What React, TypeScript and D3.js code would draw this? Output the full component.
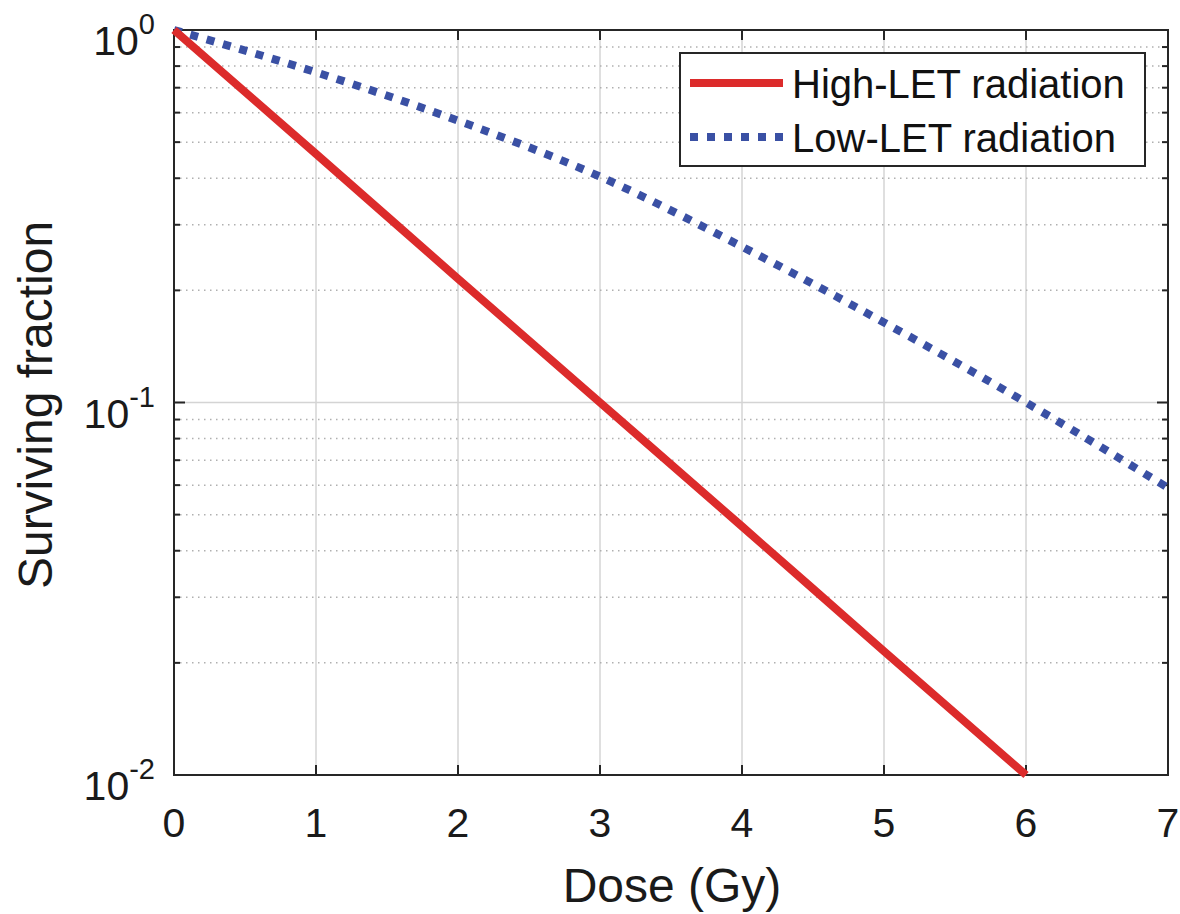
import * as d3 from "d3";
import { useEffect, useRef } from "react";

// dose (Gy)
const doses = [0, 1, 2, 3, 4, 5, 6, 7];
// surviving fraction, high-LET (ends at 6 Gy)
const highLET = [1, 0.465, 0.215, 0.1, 0.0465, 0.0215, 0.01];
// surviving fraction, low-LET
const lowLET = [1, 0.77, 0.571, 0.404, 0.262, 0.164, 0.1, 0.059];
const xTicks = [0, 1, 2, 3, 4, 5, 6, 7];
const yMajor = [0.01, 0.1, 1];
const yExp = ["-2", "-1", "0"];
const yMinor = [0.02, 0.03, 0.04, 0.05, 0.06, 0.07, 0.08, 0.09, 0.2, 0.3, 0.4, 0.5, 0.6, 0.7, 0.8, 0.9];
const seriesNames = ["High-LET radiation", "Low-LET radiation"];

const App = () => {
  const ref = useRef<SVGSVGElement>(null);

  useEffect(() => {
    const svg = d3.select(ref.current);
    svg.selectAll("*").remove();
    const font = "'Liberation Sans', Arial, sans-serif";
    const left = 174, right = 1168, top = 30, bottom = 775;
    const axisColor = "#262626";

    const x = d3.scaleLinear().domain([0, 7]).range([left, right]);
    const y = d3.scaleLog().domain([0.01, 1]).range([bottom, top]);

    // grid
    svg.append("g").selectAll("line").data(xTicks.slice(1, -1)).enter().append("line")
      .attr("x1", (d) => x(d)).attr("x2", (d) => x(d))
      .attr("y1", top).attr("y2", bottom)
      .attr("stroke", "#d4d4d4").attr("stroke-width", 1.5);
    svg.append("g").selectAll("line").data(yMinor).enter().append("line")
      .attr("x1", left).attr("x2", right)
      .attr("y1", (d) => y(d)).attr("y2", (d) => y(d))
      .attr("stroke", "#b0b0b0").attr("stroke-width", 1.5)
      .attr("stroke-dasharray", "1.5,4.5");
    svg.append("line")
      .attr("x1", left).attr("x2", right)
      .attr("y1", y(0.1)).attr("y2", y(0.1))
      .attr("stroke", "#d4d4d4").attr("stroke-width", 1.5);

    // ticks (inward, all four sides)
    const tk = svg.append("g").attr("stroke", axisColor).attr("stroke-width", 2);
    xTicks.forEach((d) => {
      tk.append("line").attr("x1", x(d)).attr("x2", x(d)).attr("y1", bottom).attr("y2", bottom - 10);
      tk.append("line").attr("x1", x(d)).attr("x2", x(d)).attr("y1", top).attr("y2", top + 10);
    });
    yMajor.forEach((d) => {
      tk.append("line").attr("x1", left).attr("x2", left + 11).attr("y1", y(d)).attr("y2", y(d));
      tk.append("line").attr("x1", right).attr("x2", right - 11).attr("y1", y(d)).attr("y2", y(d));
    });
    yMinor.forEach((d) => {
      tk.append("line").attr("x1", left).attr("x2", left + 6).attr("y1", y(d)).attr("y2", y(d));
      tk.append("line").attr("x1", right).attr("x2", right - 6).attr("y1", y(d)).attr("y2", y(d));
    });

    // box
    svg.append("rect")
      .attr("x", left).attr("y", top)
      .attr("width", right - left).attr("height", bottom - top)
      .attr("fill", "none").attr("stroke", axisColor).attr("stroke-width", 2);

    // x tick labels
    svg.append("g").selectAll("text").data(xTicks).enter().append("text")
      .attr("x", (d) => x(d)).attr("y", bottom + 62)
      .attr("text-anchor", "middle")
      .style("font-family", font).style("font-size", "41px").attr("fill", "#1a1a1a")
      .text((d) => d);

    // y tick labels 10^n
    yMajor.forEach((d, i) => {
      const t = svg.append("text")
        .attr("x", left - 19).attr("y", y(d) + 25)
        .attr("text-anchor", "end")
        .style("font-family", font).style("font-size", "41px").attr("fill", "#1a1a1a");
      t.append("tspan").text("10");
      t.append("tspan").attr("dy", -21).style("font-size", "29px").text(yExp[i]);
    });

    // axis labels
    svg.append("text")
      .attr("x", (left + right) / 2 + 1).attr("y", 902)
      .attr("text-anchor", "middle")
      .style("font-family", font).style("font-size", "48px").attr("fill", "#1a1a1a")
      .text("Dose (Gy)");
    svg.append("text")
      .attr("transform", "translate(52,405) rotate(-90)")
      .attr("text-anchor", "middle")
      .style("font-family", font).style("font-size", "48px").attr("fill", "#1a1a1a")
      .text("Surviving fraction");

    const line = d3.line<number>()
      .x((d, i) => x(doses[i]))
      .y((d) => y(d))
      .curve(d3.curveMonotoneX);

    svg.append("path")
      .datum(lowLET)
      .attr("d", line)
      .attr("fill", "none").attr("stroke", "#3a50a4")
      .attr("stroke-width", 8).attr("stroke-dasharray", "8,9");

    svg.append("path")
      .datum(highLET)
      .attr("d", line)
      .attr("fill", "none").attr("stroke", "#dc2b2b")
      .attr("stroke-width", 8);

    // legend
    const lg = svg.append("g");
    lg.append("rect")
      .attr("x", 680).attr("y", 53).attr("width", 465).attr("height", 113)
      .attr("fill", "white").attr("stroke", axisColor).attr("stroke-width", 2);
    const colors = ["#dc2b2b", "#3a50a4"];
    const dash = [null, "8,9"];
    seriesNames.forEach((name, i) => {
      const ly = 83 + i * 54;
      lg.append("line")
        .attr("x1", 690).attr("x2", 783).attr("y1", ly).attr("y2", ly)
        .attr("stroke", colors[i]).attr("stroke-width", 8)
        .attr("stroke-dasharray", dash[i]);
      lg.append("text")
        .attr("x", 792).attr("y", ly + 15)
        .style("font-family", font).style("font-size", "40px").attr("fill", "#111")
        .text(name);
    });
  }, []);

  return (
    <div style={{ position: "absolute", left: 0, top: 0 }}>
      <svg ref={ref} width={1180} height={914} style={{ display: "block", background: "white" }} />
    </div>
  );
};

export default App;
